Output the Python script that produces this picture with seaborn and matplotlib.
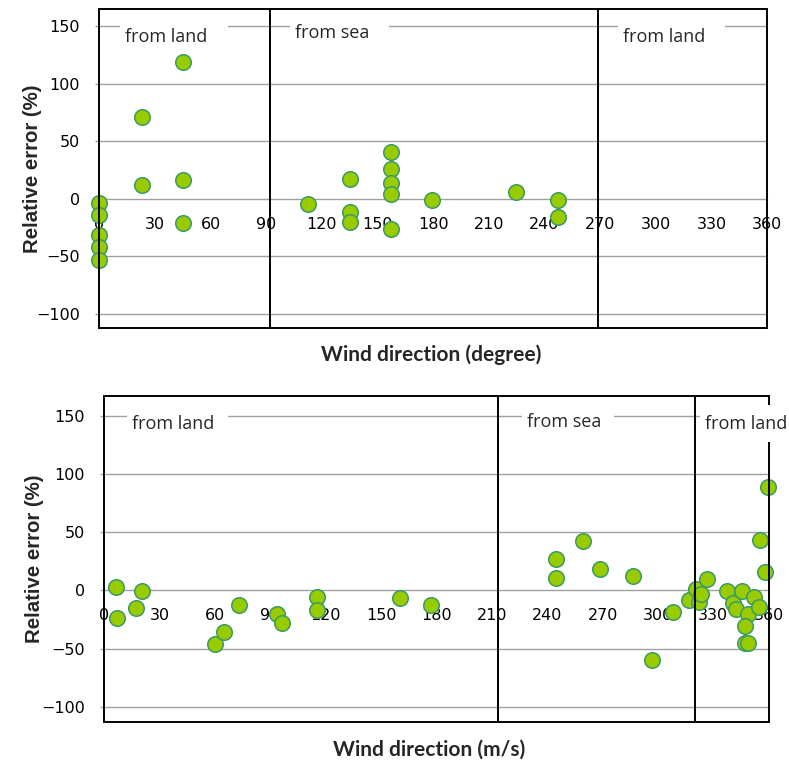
import matplotlib
matplotlib.use("Agg")
import matplotlib.pyplot as plt
import seaborn as sns
import pandas as pd
from matplotlib.patches import Rectangle

# ---- data: top panel (wind direction in degrees vs relative error %) ----
top_dir = [0, 0, 0, 0, 0, 23, 23, 45, 45, 45,
           112.5, 135, 135, 135, 157, 157, 157, 157, 157, 179.5,
           224.5, 247.5, 247.5]
top_err = [-4, -14, -32, -42, -53, 71, 12, 119, 16, -21,
           -5, 17, -12, -20, 41, 26, 14, 4, -26, -1,
           6, -1, -16]

# ---- data: bottom panel ----
bot_dir = [6.5, 7, 17, 20.5, 60, 65, 73, 93.5, 96.5, 115.5, 115, 160, 177,
           245, 245, 259.5, 268.5, 286.5, 296.5, 308, 317, 320.5, 322, 323.5,
           326.5, 337.5, 340.5, 342.5, 345.5, 349, 347, 347, 349, 352, 354.5,
           355.3, 358, 359.8]
bot_err = [3, -23.5, -15, -1, -46.5, -36, -13, -20.5, -28, -5.5, -17, -7, -12.5,
           27, 10.5, 42, 18.5, 12, -60, -19, -8, 1, -10, -3,
           9.5, -1, -11, -16, -1, -20.5, -31, -45, -45, -5.5, -14,
           43, 15.5, 88.5]

x_ticks = [0, 30, 60, 90, 120, 150, 180, 210, 240, 270, 300, 330, 360]
y_ticks = [-100, -50, 0, 50, 100, 150]
ylabel = "Relative error (%)"
xlabels = ["Wind direction (degree)", "Wind direction (m/s)"]
region_names = ["from land", "from sea", "from land"]

# layout of the region captions: (text x, text y, box x0, box x1, box y0, box y1)
top_caps = [(13.8, 140.6, 11, 69.3, 128, 157),
            (105.3, 144, 102.6, 156.3, 130, 157),
            (282.3, 140.6, 279.5, 337.3, 128, 157)]
top_dividers = [92, 269]
bot_caps = [(14.8, 142.5, 12.1, 67, 128, 157),
            (228.9, 144.7, 226.2, 276.2, 130, 157),
            (325.5, 142.5, 322.8, 371, 127.3, 159)]
bot_dividers = [213.2, 320]

sns.set_theme(style="white")
plt.rcParams["font.family"] = ["DejaVu Sans"]

fig = plt.figure(figsize=(7.89, 7.65), dpi=100)
ax1 = fig.add_axes([99.5 / 789, 1 - 327.7 / 765, (767 - 99.5) / 789, (327.7 - 9.3) / 765])
ax2 = fig.add_axes([104.3 / 789, 1 - 722.3 / 765, (768.7 - 104.3) / 789, (722.3 - 395.7) / 765])

FILL = "#99cc00"
EDGE = "#3a9a66"
GRID = "#a0a0a0"

def style_ax(ax, dirs, errs, ylim, caps, dividers, xlabel, xl_x, xl_y, yl_x):
    df = pd.DataFrame({"dir": dirs, "err": errs})
    sns.scatterplot(data=df, x="dir", y="err", ax=ax, s=125, color=FILL,
                    edgecolor=EDGE, linewidth=1.1, zorder=3, clip_on=False)
    ax.set_xlim(0, 360)
    ax.set_ylim(*ylim)
    for yv in y_ticks:
        if yv != 0:
            ax.axhline(yv, color=GRID, lw=1.0, zorder=1)
    for s in ["top", "right", "left"]:
        ax.spines[s].set_visible(False)
    ax.spines["bottom"].set_position(("data", 0))
    ax.spines["bottom"].set_color(GRID)
    ax.spines["bottom"].set_linewidth(1.0)
    ax.spines["bottom"].set_zorder(1)
    ax.set_xticks(x_ticks)
    ax.set_yticks(y_ticks)
    ax.tick_params(axis="x", direction="out", length=3, width=1, color=GRID,
                   labelsize=11.5, pad=10, labelcolor="black")
    ax.tick_params(axis="y", direction="out", length=3, width=1, color=GRID,
                   labelsize=11.5, pad=11, labelcolor="black", left=True)
    ax.set_xlabel("")
    ax.set_ylabel(ylabel, fontsize=14.7, fontweight="bold",
                  family="Liberation Sans")
    ax.yaxis.set_label_coords(yl_x, 0.5)
    ax.add_patch(Rectangle((0, 0), 1, 1, transform=ax.transAxes, fill=False,
                           edgecolor="black", lw=1.4, zorder=5, clip_on=False))
    for d in dividers:
        ax.axvline(d, color="black", lw=1.4, zorder=5)
    for name, (tx, ty, bx0, bx1, by0, by1) in zip(region_names, caps):
        ax.add_patch(Rectangle((bx0, by0), bx1 - bx0, by1 - by0, fc="white",
                               ec="none", zorder=6, clip_on=False))
        ax.text(tx, ty, name, fontsize=13, ha="left", va="center",
                family="Open Sans", zorder=7, clip_on=False)
    fig.text(xl_x, xl_y, xlabel, ha="center", va="center", fontsize=15,
             fontweight="bold", family=["Lato"])

style_ax(ax1, top_dir, top_err, (-112.2, 164.7), top_caps, top_dividers,
         xlabels[0], 431.5 / 789, 1 - 355 / 765, (42 - 99.5) / 667.5)
style_ax(ax2, bot_dir, bot_err, (-113.3, 167), bot_caps, bot_dividers,
         xlabels[1], 429 / 789, 1 - 750 / 765, (44 - 104.3) / 664.4)

fig.savefig("out.png", dpi=100)
